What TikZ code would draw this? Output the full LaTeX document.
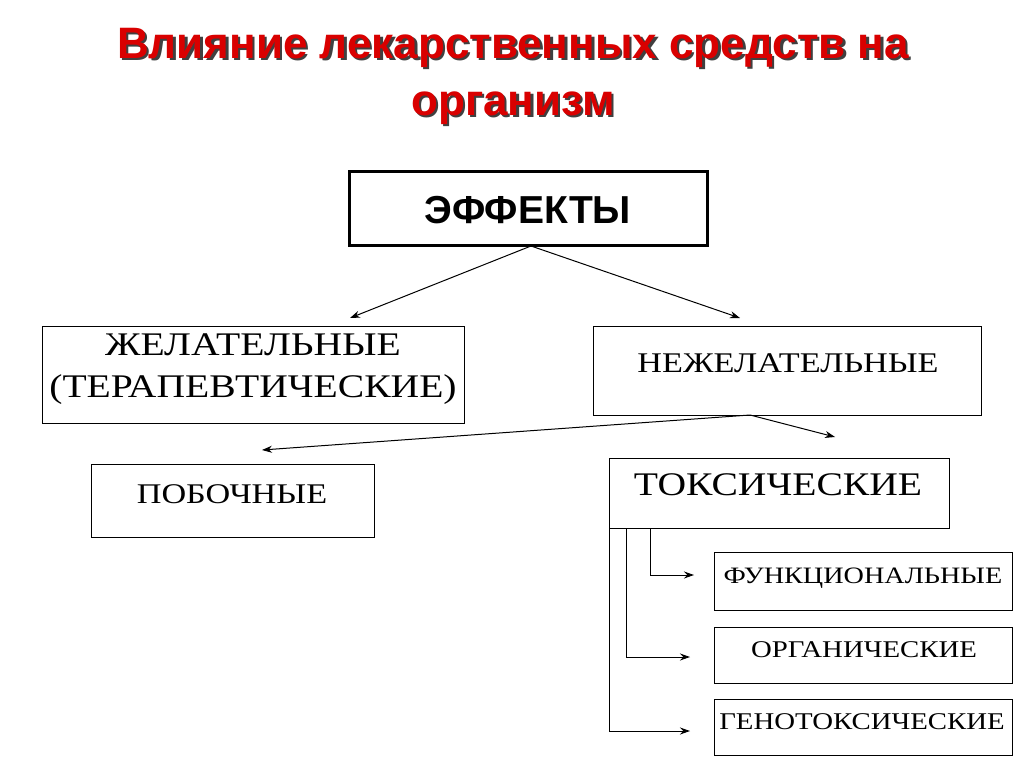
\documentclass[tikz,border=0pt]{standalone}
\usepackage{fontspec}
\setmainfont{Liberation Serif}
\newfontfamily\arialf{Liberation Sans}
\usetikzlibrary{arrows.meta}
\newcommand{\wide}[1]{\scalebox{1.2}[1]{#1}}
\begin{document}
\begin{tikzpicture}[x=1pt,y=-1pt,
  arr/.style={-{Stealth[length=10pt,width=7pt]},line width=1pt},
  bx/.style={line width=1pt}]
\useasboundingbox[fill=white] (0,0) rectangle (1024,767);
% title
\foreach \dx/\col in {2.5/black!75,0/red!85!black}{
\node[text=\col,font=\arialf\bfseries\fontsize{44}{57}\selectfont,align=center] (t\dx) at (513+\dx,76+\dx) {Влияние лекарственных средств на\\организм};}
% boxes
\draw[line width=3pt] (349,172) rectangle (707,245);
\node[font=\arialf\bfseries\fontsize{39}{44}\selectfont] (eff) at (528,210) {ЭФФЕКТЫ};
\coordinate (effb) at (531,246);
\draw[bx] (42,326) rectangle (464,423);
\node[font=\fontsize{33}{42}\selectfont,align=center] (des) at (253,369) {\wide{ЖЕЛАТЕЛЬНЫЕ}\\\wide{(ТЕРАПЕВТИЧЕСКИЕ)}};
\draw[bx] (593,326) rectangle (981,415);
\node[font=\fontsize{28.5}{40}\selectfont] (und) at (788,363) {\wide{НЕЖЕЛАТЕЛЬНЫЕ}};
\coordinate (undb) at (750,415);
\draw[bx] (91,464) rectangle (374,537);
\node[font=\fontsize{28.5}{40}\selectfont] (side) at (232,494) {\wide{ПОБОЧНЫЕ}};
\draw[bx] (609,458) rectangle (949,528);
\node[font=\fontsize{33}{44}\selectfont] (tox) at (778,485) {\wide{ТОКСИЧЕСКИЕ}};
\draw[bx] (714,552) rectangle (1012,610);
\node[font=\fontsize{23.5}{32}\selectfont] (f1) at (863,578) {\wide{ФУНКЦИОНАЛЬНЫЕ}};
\draw[bx] (714,627) rectangle (1012,683);
\node[font=\fontsize{24}{32}\selectfont] (f2) at (864,650) {\wide{ОРГАНИЧЕСКИЕ}};
\draw[bx] (714,699) rectangle (1012,755);
\node[font=\fontsize{24}{32}\selectfont] (f3) at (862,722) {\wide{ГЕНОТОКСИЧЕСКИЕ}};
% arrows
\coordinate (a1) at (350,318); \coordinate (a2) at (740,318);
\draw[arr] (effb) -- (a1);
\draw[arr] (effb) -- (a2);
\coordinate (b1) at (262,450); \coordinate (b2) at (835,437);
\draw[arr] (undb) -- (b1);
\draw[arr] (undb) -- (b2);
\coordinate (c1) at (694,575); \coordinate (c2) at (690,657); \coordinate (c3) at (690,731);
\draw[arr] (650,528) |- (c1);
\draw[arr] (626,528) |- (c2);
\draw[arr] (609,528) |- (c3);
\end{tikzpicture}
\end{document}
